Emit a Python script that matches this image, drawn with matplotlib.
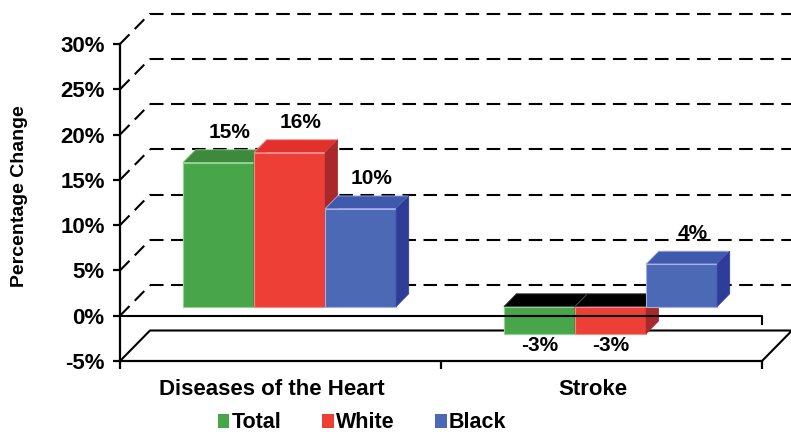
import matplotlib
matplotlib.use('Agg')
import matplotlib.pyplot as plt
from matplotlib.patches import Polygon, Patch
from matplotlib.transforms import ScaledTranslation

# data
categories = ['Diseases of the Heart', 'Stroke']
series = ['Total', 'White', 'Black']
heart = [15.9, 17.0, 10.8]
stroke = [-3.0, -3.0, 4.7]
heart_labels = ['15%', '16%', '10%']
stroke_labels = ['-3%', '-3%', '4%']
yticks = [-5, 0, 5, 10, 15, 20, 25, 30]

front = ['#49a54a', '#ee3f36', '#4b69b5']
top = ['#3d8a3d', '#e2302c', '#3f5aac']
side = ['#2f6e2f', '#a8282c', '#2e3d98']
edge = ['#8fd48f', '#f08a84', '#a6b0e6']

plt.rcParams['font.family'] = ['Liberation Sans', 'DejaVu Sans']
plt.rcParams['font.weight'] = 'bold'

fig = plt.figure(figsize=(7.91, 4.34), dpi=100)
ax = fig.add_axes([120/791, (434-361)/434, (762-120)/791, (361-44)/434])
ax.set_xlim(0, 2)
ax.set_ylim(-5, 30)

# oblique depth of the box, in data units
px_x = 321.0
px_y = (361-44)/35.0
DX = 30/px_x
DY = 30.5/px_y
F0, F1 = 0.3, 0.72
W = 0.2215

dash = (0, (6.5, 3.6))
for v in range(0, 35, 5):
    ax.plot([DX, 2+DX], [v+DY, v+DY], color='black', lw=1.5, ls=dash, clip_on=False, zorder=1)
    ax.plot([0, DX], [v, v+DY], color='black', lw=1.5, ls=dash, clip_on=False, zorder=1)

# floor
fl = -5
ax.plot([0, DX, 2+DX, 2], [fl, fl+DY, fl+DY, fl], color='black', lw=1.5, clip_on=False, zorder=1)

sx, sy = F0*DX, F0*DY
ddx, ddy = (F1-F0)*DX, (F1-F0)*DY

def draw_bar(x0, v, j):
    lo, hi = min(v, 0), max(v, 0)
    xl, xr = x0+sx, x0+W+sx
    fr = Polygon([(xl, sy+lo), (xr, sy+lo), (xr, sy+hi), (xl, sy+hi)],
                 fc=front[j], ec=edge[j], lw=0.8, clip_on=False, zorder=3)
    tc = top[j] if v > 0 else 'black'
    tp = Polygon([(xl, sy+hi), (xr, sy+hi), (xr+ddx, sy+hi+ddy), (xl+ddx, sy+hi+ddy)],
                 fc=tc, ec=edge[j] if v > 0 else '#444444', lw=0.6, clip_on=False, zorder=3)
    sd = Polygon([(xr, sy+lo), (xr+ddx, sy+lo+ddy), (xr+ddx, sy+hi+ddy), (xr, sy+hi)],
                 fc=side[j], ec=side[j], lw=0.5, clip_on=False, zorder=3)
    for p in (fr, tp, sd):
        ax.add_patch(p)

for i, (vals, labs) in enumerate([(heart, heart_labels), (stroke, stroke_labels)]):
    for j, v in enumerate(vals):
        x0 = i + 0.5 - 1.5*W + j*W
        draw_bar(x0, v, j)
        if v > 0:
            ax.annotate(labs[j], (x0+W/2+sx+0.9*ddx, v+sy+ddy), xytext=(0, 8.5),
                        textcoords='offset points', ha='center', va='baseline',
                        fontsize=15, fontweight='bold', zorder=5)
        else:
            ax.annotate(labs[j], (x0+W/2+sx, v+sy), xytext=(0, -1.5),
                        textcoords='offset points', ha='center', va='top',
                        fontsize=15, fontweight='bold', zorder=5)

# front zero line
ax.plot([0, 2, 2], [0, 0, -0.9], color='black', lw=1.5, clip_on=False, zorder=4)

for s in ['top', 'right']:
    ax.spines[s].set_visible(False)
ax.spines['left'].set_linewidth(1.6)
ax.spines['bottom'].set_linewidth(1.6)
ax.set_facecolor('none')

ax.set_yticks(yticks)
ax.set_yticklabels([f'{t}%' for t in yticks], fontsize=16, fontweight='bold')
ax.tick_params(axis='y', length=5, width=1.6, pad=6)
ax.set_xticks([0, 1, 2])
ax.set_xticklabels([])
ax.tick_params(axis='x', which='major', length=6, width=1.6)
ax.set_xticks([0.5, 1.5], minor=True)
ax.set_xticklabels(categories, minor=True, fontsize=16, fontweight='bold')
ax.tick_params(axis='x', which='minor', length=0, pad=13)
for lbl in ax.get_xticklabels(minor=True):
    lbl.set_transform(lbl.get_transform() + ScaledTranslation(-9/100, 0, fig.dpi_scale_trans))

ax.set_ylabel('Percentage Change', fontsize=14, fontweight='bold')
ax.yaxis.set_label_coords(-92/642, (361-196)/317)

handles = [Patch(fc=front[j], ec='none', label=series[j]) for j in range(3)]
fig.legend(handles=handles, loc='center', bbox_to_anchor=(362/791, 1-423/434), ncol=3,
           frameon=False, prop={'size': 15.5, 'weight': 'bold'}, handlelength=0.55,
           handleheight=0.65, handletextpad=0.1, columnspacing=1.88)

fig.savefig('out.png', dpi=100)
